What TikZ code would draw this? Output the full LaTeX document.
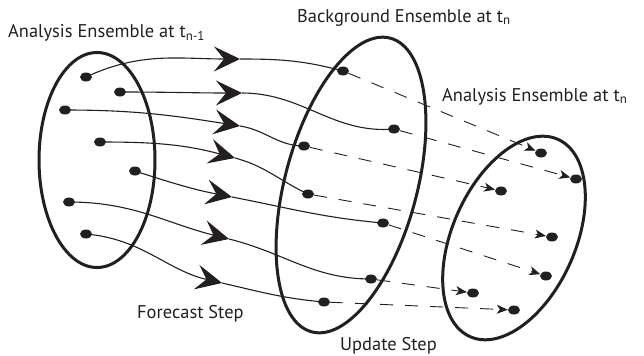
\documentclass[tikz,border=0pt]{standalone}
\usepackage{fontspec}
\setmainfont{PT Sans}
\usetikzlibrary{arrows.meta,shapes.geometric}
\definecolor{Ink}{HTML}{231F20}
\tikzset{
  member/.style={ellipse,fill=Ink,inner sep=0pt,minimum width=12bp,minimum height=9bp},
  ensemble/.style={draw=Ink,line width=3bp},
  forecast/.style={draw=Ink,line width=1.1bp,-{Stealth[length=26bp,width=25bp,inset=10bp]}},
  track/.style={draw=Ink,line width=1.1bp},
  update/.style={draw=Ink,line width=0.9bp,dash pattern=on 13bp off 12bp,-{Stealth[length=11bp,width=9bp,inset=3bp]}},
  label/.style={font=\fontsize{18.5}{20}\selectfont,text=Ink,inner sep=0pt,anchor=base west}
}

\begin{document}
\begin{tikzpicture}[x=1bp,y=1bp]
  \useasboundingbox (0,0) rectangle (644,355);
  \draw[ensemble] (97,195) ellipse (58 and 107.5);
  \draw[ensemble,rotate around={75:(351,170)}] (351,170) ellipse (152 and 66);
  \draw[ensemble,rotate around={66:(514,117)}] (514,117) ellipse (108 and 61.5);
  \foreach \n/\x/\y in {1/86/278,2/120/263,3/65/245,4/100/213,5/135/184,6/69/153,7/86/121}
    \node[member] (a\n) at (\x,\y) {};
  \foreach \n/\x/\y in {1/240/296,2/242/262,3/240/229,4/235/197,5/232/158,6/229/116,7/222/72}
    \coordinate (f\n) at (\x,\y);
  \foreach \n/\x/\y in {1/343/284,2/394/226,3/304/209,4/308/161,5/383/132,6/371/76,7/324/53}
    \node[member] (b\n) at (\x,\y) {};
  \foreach \n/\x/\y in {1/541/202,2/576/176,3/501/164,4/552/118,5/546/79,6/473/62,7/514/45}
    \node[member] (c\n) at (\x,\y) {};
  \foreach \n/\oa/\ia/\ob/\ib in {1/25/180/0/165,2/0/180/0/185,3/0/171/-9/180,4/0/165/-15/155,
      5/-18/169/-11/175,6/0/166/-14/180,7/-5/167/-13/175} {
    \draw[forecast] (a\n.center) to[out=\oa,in=\ia] (f\n);
    \draw[track] (f\n) to[out=\ob,in=\ib] (b\n.center);
    \draw[update] (b\n) -- (c\n);
  }
  \node[label] (prev) at (8,318) {Analysis Ensemble at t\textsubscript{n-1}};
  \node[label] (back) at (297,333) {Background Ensemble at t\textsubscript{n}};
  \node[label] (next) at (442,254) {Analysis Ensemble at t\textsubscript{n}};
  \node[label] (fstep) at (137,37) {Forecast Step};
  \node[label] (ustep) at (340,5) {Update Step};
\end{tikzpicture}
\end{document}
